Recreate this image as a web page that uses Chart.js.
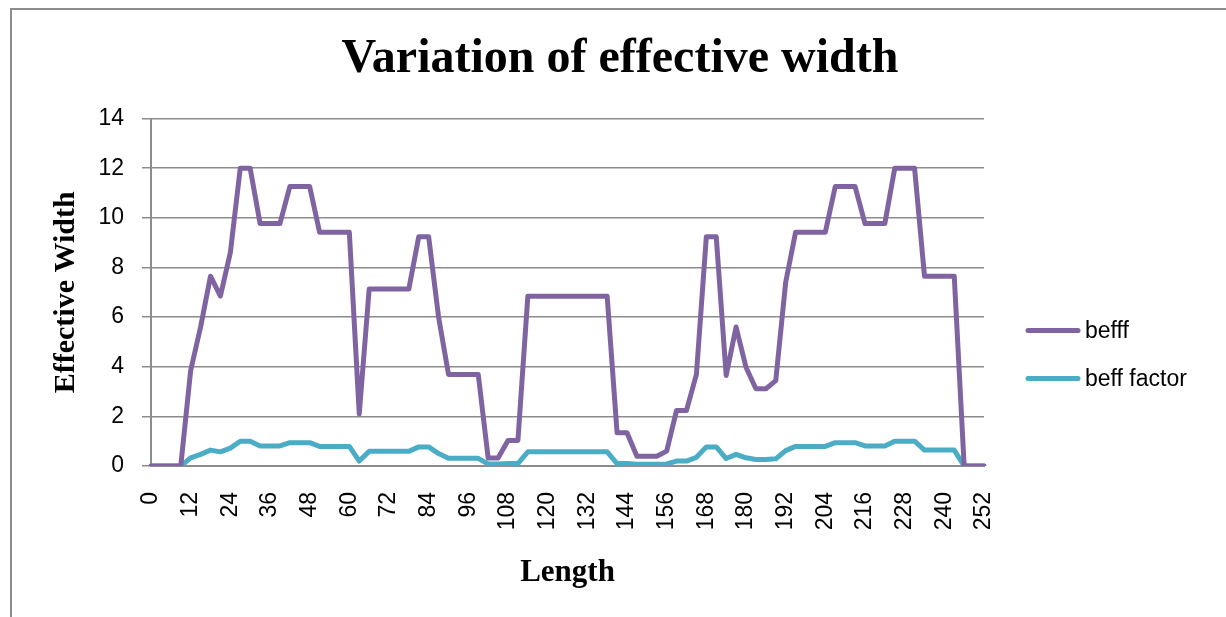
<!DOCTYPE html>
<html>
<head>
<meta charset="utf-8">
<script src="https://cdn.jsdelivr.net/npm/chart.js@4/dist/chart.umd.min.js"></script>
<style>
  html, body { margin: 0; padding: 0; background: #fff; overflow: hidden; }
  #frame { position: absolute; left: 10px; top: 8px; width: 1400px; height: 800px; border: 2px solid #8c8c8c; }
  #wrap { position: absolute; left: 0; top: 0; width: 1226px; height: 617px; }
</style>
</head>
<body>
<div id="frame"></div>
<div id="wrap"><canvas id="chart"></canvas></div>
<script>
// Length positions (every 3 units), labels shown every 12
const lengths = [
  0, 3, 6, 9, 12, 15, 18, 21, 24, 27, 30, 33, 36, 39, 42, 45, 48, 51, 54, 57,
  60, 63, 66, 69, 72, 75, 78, 81, 84, 87, 90, 93, 96, 99, 102, 105, 108, 111, 114, 117,
  120, 123, 126, 129, 132, 135, 138, 141, 144, 147, 150, 153, 156, 159, 162, 165, 168, 171, 174, 177,
  180, 183, 186, 189, 192, 195, 198, 201, 204, 207, 210, 213, 216, 219, 222, 225, 228, 231, 234, 237,
  240, 243, 246, 249, 252
];

const befff = [
  0, 0, 0, 0, 3.85, 5.6, 7.65, 6.85, 8.6, 12,
  12, 9.77, 9.77, 9.77, 11.26, 11.26, 11.26, 9.42, 9.42, 9.42,
  9.42, 2.1, 7.13, 7.13, 7.13, 7.13, 7.13, 9.24, 9.24, 6.0,
  3.69, 3.69, 3.69, 3.69, 0.32, 0.32, 1.03, 1.03, 6.84, 6.84,
  6.84, 6.84, 6.84, 6.84, 6.84, 6.84, 6.84, 1.34, 1.34, 0.39,
  0.39, 0.39, 0.6, 2.24, 2.24, 3.69, 9.24, 9.24, 3.65, 5.6,
  3.98, 3.11, 3.11, 3.44, 7.4, 9.42, 9.42, 9.42, 9.42, 11.26,
  11.26, 11.26, 9.77, 9.77, 9.77, 12, 12, 12, 7.65, 7.65,
  7.65, 7.65, 0, 0, 0
];

const beffFactor = [
  0, 0, 0, 0, 0.33, 0.47, 0.64, 0.57, 0.72, 1,
  1, 0.81, 0.81, 0.81, 0.94, 0.94, 0.94, 0.79, 0.79, 0.79,
  0.79, 0.2, 0.59, 0.59, 0.59, 0.59, 0.59, 0.77, 0.77, 0.5,
  0.31, 0.31, 0.31, 0.31, 0.08, 0.08, 0.1, 0.1, 0.57, 0.57,
  0.57, 0.57, 0.57, 0.57, 0.57, 0.57, 0.57, 0.1, 0.1, 0.07,
  0.07, 0.07, 0.08, 0.2, 0.2, 0.35, 0.77, 0.77, 0.3, 0.47,
  0.33, 0.26, 0.26, 0.29, 0.62, 0.79, 0.79, 0.79, 0.79, 0.94,
  0.94, 0.94, 0.81, 0.81, 0.81, 1, 1, 1, 0.64, 0.64,
  0.64, 0.64, 0, 0, 0
];

const yTicks = [0, 2, 4, 6, 8, 10, 12, 14];

const gridGrey = '#8c8c8c';
const tickFont = { family: 'Liberation Sans', size: 23 };
const serifBold = (size) => ({ family: 'Liberation Serif', size, weight: 'bold' });

// legend drawn on the right like the spreadsheet one
const sideLegend = {
  id: 'sideLegend',
  afterDraw(chart) {
    const { ctx, chartArea } = chart;
    ctx.save();
    chart.data.datasets.forEach((ds, i) => {
      const y = chartArea.top + 212 + i * 48;
      const x = chartArea.right + 44;
      ctx.strokeStyle = ds.borderColor;
      ctx.lineWidth = 5;
      ctx.lineCap = 'round';
      ctx.beginPath();
      ctx.moveTo(x, y);
      ctx.lineTo(x + 50, y);
      ctx.stroke();
      ctx.fillStyle = '#000';
      ctx.font = '23px "Liberation Sans"';
      ctx.textBaseline = 'middle';
      ctx.fillText(ds.label, x + 57, y + 1);
    });
    ctx.restore();
  }
};

new Chart(document.getElementById('chart'), {
  type: 'line',
  data: {
    labels: lengths,
    datasets: [
      {
        label: 'befff',
        data: befff,
        borderColor: '#8064a2',
        borderWidth: 5,
        pointRadius: 0,
        tension: 0,
        borderJoinStyle: 'round',
        borderCapStyle: 'round'
      },
      {
        label: 'beff factor',
        data: beffFactor,
        borderColor: '#4bacc6',
        borderWidth: 5,
        pointRadius: 0,
        tension: 0,
        borderJoinStyle: 'round',
        borderCapStyle: 'round'
      }
    ]
  },
  options: {
    responsive: true,
    maintainAspectRatio: false,
    animation: false,
    layout: { padding: { left: 14, right: 0, top: 0, bottom: 21 } },
    plugins: {
      legend: { display: false },
      tooltip: { enabled: false },
      title: {
        display: true,
        text: 'Variation of effective width',
        color: '#000',
        font: serifBold(48),
        padding: { top: 31, bottom: 30 }
      }
    },
    scales: {
      x: {
        grid: { display: true, drawOnChartArea: false, drawTicks: false, color: gridGrey },
        border: { display: true, color: gridGrey, width: 2 },
        ticks: {
          autoSkip: false,
          minRotation: 90,
          maxRotation: 90,
          padding: 26,
          color: '#000',
          font: tickFont,
          callback: function (value, index) {
            return index % 4 === 0 ? String(lengths[index]) : '';
          }
        },
        title: { display: true, text: 'Length', color: '#000', font: serifBold(31), padding: { top: 4, bottom: 4 } },
        afterFit: (s) => { s.height = 130; }
      },
      y: {
        min: 0,
        max: 14,
        afterBuildTicks: (s) => { s.ticks = yTicks.map(v => ({ value: v })); },
        grid: { color: gridGrey, lineWidth: 1.5, tickLength: 9 },
        border: { display: true, color: gridGrey, width: 2 },
        ticks: { padding: 18, color: '#000', font: tickFont },
        title: { display: true, text: 'Effective Width', color: '#000', font: serifBold(30), padding: { top: 34, bottom: 4 } },
        afterFit: (s) => { s.width = 137; }
      },
      // empty right-hand axis that only reserves room for the legend
      side: {
        position: 'right',
        display: true,
        grid: { display: false },
        border: { display: false },
        ticks: { display: false },
        afterFit: (s) => { s.width = 242; }
      }
    }
  },
  plugins: [sideLegend]
});
</script>
</body>
</html>
